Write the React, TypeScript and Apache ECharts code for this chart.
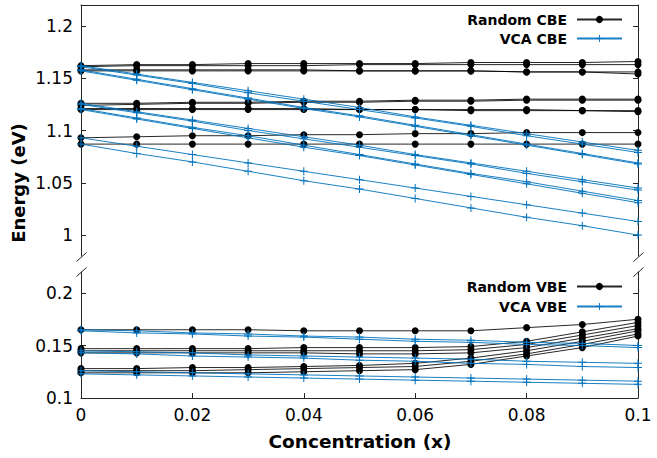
import React, { useEffect, useRef } from "react";
import * as echarts from "echarts";

// ---------- data ----------
const X = [0, 0.01, 0.02, 0.03, 0.04, 0.05, 0.06, 0.07, 0.08, 0.09, 0.1];
const X_TICKS = [0, 0.02, 0.04, 0.06, 0.08, 0.1];
const Y_TICKS_CBE = [1, 1.05, 1.1, 1.15, 1.2];
const Y_TICKS_VBE = [0.1, 0.15, 0.2];

const RANDOM_CBE: number[][] = [
  [1.162, 1.163, 1.163, 1.164, 1.164, 1.164, 1.164, 1.165, 1.165, 1.165, 1.166],
  [1.161, 1.162, 1.162, 1.162, 1.162, 1.163, 1.163, 1.163, 1.163, 1.163, 1.163],
  [1.158, 1.158, 1.158, 1.158, 1.158, 1.157, 1.157, 1.157, 1.156, 1.156, 1.154],
  [1.157, 1.157, 1.157, 1.157, 1.157, 1.157, 1.157, 1.157, 1.156, 1.156, 1.156],
  [1.126, 1.126, 1.127, 1.127, 1.128, 1.128, 1.129, 1.129, 1.13, 1.13, 1.13],
  [1.124, 1.125, 1.126, 1.126, 1.127, 1.127, 1.128, 1.128, 1.129, 1.129, 1.129],
  [1.121, 1.121, 1.121, 1.121, 1.121, 1.12, 1.12, 1.12, 1.12, 1.119, 1.119],
  [1.12, 1.12, 1.12, 1.12, 1.12, 1.12, 1.12, 1.119, 1.119, 1.119, 1.118],
  [1.093, 1.094, 1.095, 1.095, 1.096, 1.096, 1.097, 1.097, 1.098, 1.098, 1.098],
  [1.087, 1.087, 1.087, 1.087, 1.087, 1.087, 1.087, 1.087, 1.087, 1.087, 1.087],
];

const VCA_CBE: number[][] = [
  [1.162, 1.154, 1.146, 1.138, 1.13, 1.122, 1.113, 1.105, 1.097, 1.089, 1.081],
  [1.161, 1.153, 1.145, 1.136, 1.128, 1.12, 1.112, 1.104, 1.095, 1.087, 1.079],
  [1.158, 1.149, 1.14, 1.131, 1.122, 1.114, 1.105, 1.096, 1.087, 1.078, 1.069],
  [1.157, 1.148, 1.139, 1.13, 1.121, 1.113, 1.104, 1.095, 1.086, 1.077, 1.068],
  [1.126, 1.118, 1.11, 1.102, 1.094, 1.086, 1.077, 1.069, 1.061, 1.053, 1.045],
  [1.125, 1.117, 1.109, 1.1, 1.092, 1.084, 1.076, 1.068, 1.059, 1.051, 1.043],
  [1.121, 1.112, 1.103, 1.095, 1.086, 1.077, 1.068, 1.059, 1.051, 1.042, 1.033],
  [1.12, 1.111, 1.102, 1.093, 1.084, 1.076, 1.067, 1.058, 1.049, 1.04, 1.031],
  [1.093, 1.085, 1.077, 1.069, 1.061, 1.053, 1.045, 1.037, 1.029, 1.021, 1.013],
  [1.087, 1.078, 1.07, 1.061, 1.052, 1.044, 1.035, 1.026, 1.017, 1.009, 1.0],
];

const RANDOM_VBE: number[][] = [
  [0.165, 0.165, 0.165, 0.165, 0.164, 0.164, 0.164, 0.164, 0.167, 0.17, 0.175],
  [0.147, 0.147, 0.147, 0.147, 0.148, 0.148, 0.148, 0.149, 0.154, 0.163, 0.172],
  [0.145, 0.145, 0.145, 0.145, 0.145, 0.145, 0.145, 0.146, 0.151, 0.16, 0.169],
  [0.143, 0.143, 0.143, 0.143, 0.143, 0.142, 0.142, 0.143, 0.148, 0.157, 0.166],
  [0.128, 0.128, 0.129, 0.129, 0.13, 0.131, 0.133, 0.138, 0.145, 0.154, 0.164],
  [0.126, 0.126, 0.126, 0.127, 0.128, 0.129, 0.13, 0.135, 0.142, 0.151, 0.161],
  [0.124, 0.124, 0.124, 0.124, 0.125, 0.126, 0.127, 0.132, 0.14, 0.148, 0.159],
];

const VCA_VBE: number[][] = [
  [0.165, 0.164, 0.162, 0.161, 0.159, 0.158, 0.156, 0.155, 0.153, 0.152, 0.15],
  [0.164, 0.162, 0.161, 0.159, 0.158, 0.156, 0.154, 0.153, 0.151, 0.15, 0.148],
  [0.145, 0.144, 0.143, 0.141, 0.14, 0.139, 0.138, 0.137, 0.135, 0.134, 0.133],
  [0.143, 0.142, 0.14, 0.139, 0.138, 0.136, 0.135, 0.133, 0.132, 0.13, 0.129],
  [0.126, 0.125, 0.124, 0.123, 0.122, 0.121, 0.12, 0.119, 0.118, 0.117, 0.116],
  [0.123, 0.122, 0.121, 0.12, 0.119, 0.118, 0.117, 0.116, 0.115, 0.114, 0.113],
];

// ---------- styling ----------
const FONT = "DejaVu Sans";
const AXIS_COLOR = "#262626";
const BLACK = "#000000";
const BLUE = "#0072BD";
const PLUS = "path://M3.5,0h1v3.5h3.5v1h-3.5v3.5h-1v-3.5h-3.5v-1h3.5z";

const fmt = (v: number) => String(Number(v.toFixed(3)));

function lineSeries(name: string, rows: number[][], axisIdx: number, kind: "random" | "vca") {
  return rows.map((row) => ({
    type: "line",
    name,
    xAxisIndex: axisIdx,
    yAxisIndex: axisIdx * 2,
    data: X.map((x, i) => [x, row[i]]),
    symbol: kind === "random" ? "circle" : PLUS,
    symbolSize: kind === "random" ? 7 : 8,
    showSymbol: true,
    itemStyle: { color: kind === "random" ? BLACK : BLUE },
    lineStyle: { color: kind === "random" ? BLACK : BLUE, width: 1, opacity: kind === "random" ? 0.85 : 0.9 },
    emphasis: { disabled: true },
    silent: true,
    z: kind === "random" ? 2 : 3,
  }));
}

function yAxes(gridIndex: number, min: number, max: number, ticks: number[]) {
  return [
    {
      type: "value",
      gridIndex,
      position: "left",
      min,
      max,
      splitLine: { show: false },
      axisLine: { show: true, lineStyle: { color: AXIS_COLOR, width: 1 } },
      axisTick: { show: true, inside: true, length: 5, customValues: ticks, lineStyle: { color: AXIS_COLOR } },
      axisLabel: {
        show: true,
        customValues: ticks,
        margin: 8,
        fontFamily: FONT,
        fontSize: 17,
        color: "#000",
        formatter: (v: number) => fmt(v),
      },
    },
    {
      type: "value",
      gridIndex,
      position: "right",
      min,
      max,
      splitLine: { show: false },
      axisLine: { show: true, lineStyle: { color: AXIS_COLOR, width: 1 } },
      axisTick: { show: true, inside: true, length: 5, customValues: ticks, lineStyle: { color: AXIS_COLOR } },
      axisLabel: { show: false },
    },
  ];
}

function legend(top: number, names: string[], gap: number) {
  return {
    orient: "vertical",
    right: 34,
    top,
    padding: 0,
    align: "right",
    itemWidth: 45,
    itemHeight: 9,
    itemGap: gap,
    selectedMode: false,
    data: names,
    textStyle: {
      fontFamily: FONT,
      fontSize: 14,
      fontWeight: "bold",
      color: "#000",
      lineHeight: 17,
      padding: [0, 5, 0, 0],
    },
  };
}

function breakMark(cx: number, cy: number) {
  return {
    type: "line",
    shape: { x1: cx - 5, y1: cy + 4.5, x2: cx + 5, y2: cy - 4.5 },
    style: { stroke: AXIS_COLOR, lineWidth: 1 },
    silent: true,
  };
}

export default function App() {
  const ref = useRef<HTMLDivElement>(null);

  useEffect(() => {
    if (!ref.current) return;
    const chart = echarts.init(ref.current, undefined, { renderer: "svg" });
    const option = {
      animation: false,
      backgroundColor: "#ffffff",
      grid: [
        { left: 81, right: 19, top: 5, height: 251, containLabel: false },
        { left: 81, right: 19, top: 272, height: 126, containLabel: false },
      ],
      xAxis: [
        {
          type: "value",
          gridIndex: 0,
          position: "top",
          min: 0,
          max: 0.1,
          splitLine: { show: false },
          axisLine: { show: true, lineStyle: { color: AXIS_COLOR, width: 1 } },
          axisTick: { show: false },
          axisLabel: { show: false },
        },
        {
          type: "value",
          gridIndex: 1,
          position: "bottom",
          min: 0,
          max: 0.1,
          splitLine: { show: false },
          axisLine: { show: true, lineStyle: { color: AXIS_COLOR, width: 1 } },
          axisTick: { show: true, inside: true, length: 5, customValues: X_TICKS, lineStyle: { color: AXIS_COLOR } },
          axisLabel: {
            show: true,
            customValues: X_TICKS,
            margin: 8,
            fontFamily: FONT,
            fontSize: 17,
            color: "#000",
            formatter: (v: number) => fmt(v),
          },
        },
      ],
      yAxis: [...yAxes(0, 0.98, 1.22, Y_TICKS_CBE), ...yAxes(1, 0.1, 0.22, Y_TICKS_VBE)],
      legend: [legend(11, ["Random CBE", "VCA CBE"], 2), legend(278, ["Random VBE", "VCA VBE"], 3)],
      series: [
        ...lineSeries("Random CBE", RANDOM_CBE, 0, "random"),
        ...lineSeries("VCA CBE", VCA_CBE, 0, "vca"),
        ...lineSeries("Random VBE", RANDOM_VBE, 1, "random"),
        ...lineSeries("VCA VBE", VCA_VBE, 1, "vca"),
      ],
      graphic: [
        breakMark(81.5, 257),
        breakMark(81.5, 272),
        breakMark(638.5, 257),
        breakMark(638.5, 272),
        {
          type: "text",
          x: 18,
          y: 183,
          rotation: Math.PI / 2,
          style: {
            text: "Energy (eV)",
            font: `bold 18px "${FONT}"`,
            fill: "#000",
            textAlign: "center",
            textVerticalAlign: "middle",
          },
        },
        {
          type: "text",
          x: 360,
          y: 441,
          style: {
            text: "Concentration (x)",
            font: `bold 18.5px "${FONT}"`,
            fill: "#000",
            textAlign: "center",
            textVerticalAlign: "middle",
          },
        },
      ],
    };
    chart.setOption(option as any);
    return () => chart.dispose();
  }, []);

  return (
    <div
      ref={ref}
      style={{ position: "absolute", left: 0, top: 0, width: 657, height: 458, background: "#fff" }}
    />
  );
}
